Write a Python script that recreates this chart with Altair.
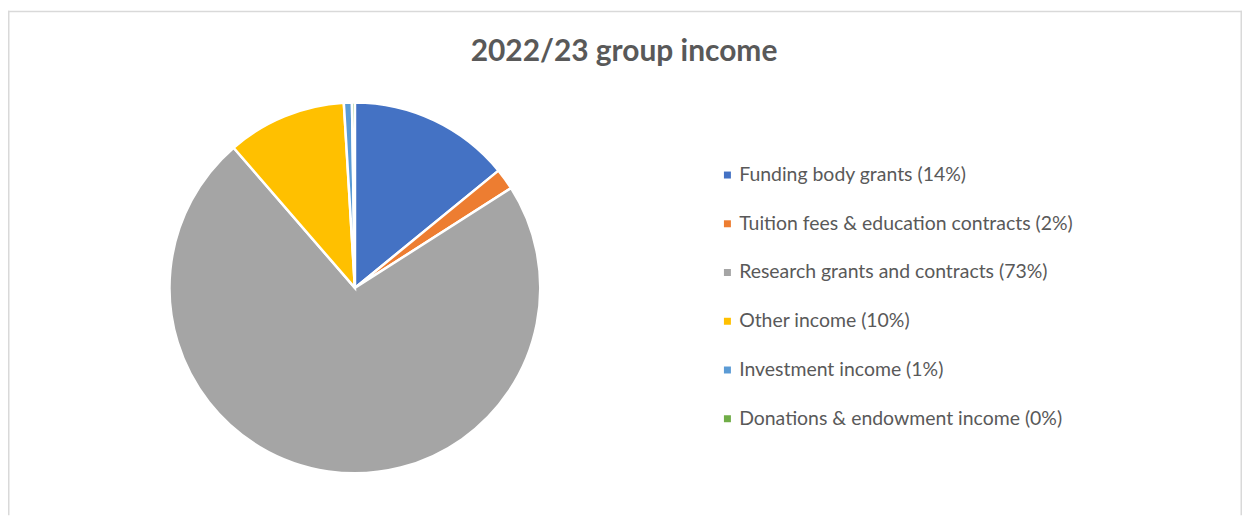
import altair as alt
import pandas as pd

title_text = "2022/23 group income"
categories = [
    "Funding body grants (14%)",
    "Tuition fees & education contracts (2%)",
    "Research grants and contracts (73%)",
    "Other income (10%)",
    "Investment income (1%)",
    "Donations & endowment income (0%)",
]
values = [14.1, 1.85, 72.7, 10.4, 0.7, 0.25]
colors = ["#4472C4", "#ED7D31", "#A5A5A5", "#FFC000", "#5B9BD5", "#70AD47"]

W, H = 1238, 506
TEXT_COLOR = "#595959"
BORDER = "#d9d9d9"

df = pd.DataFrame({"category": categories, "value": values})

pie = (
    alt.Chart(df)
    .transform_window(idx="row_number()")
    .mark_arc(radius=186, stroke="white", strokeWidth=2.5)
    .encode(
        theta=alt.Theta("value:Q", stack=True),
        color=alt.Color(
            "category:N",
            sort=categories,
            scale=alt.Scale(domain=categories, range=colors),
            legend=alt.Legend(
                title=None,
                orient="none",
                legendX=712,
                legendY=155,
                symbolType="square",
                symbolSize=49,
                symbolStrokeWidth=0,
                labelFont="Lato",
                labelFontSize=19.5,
                labelColor=TEXT_COLOR,
                labelOffset=2,
                rowPadding=27.9,
                padding=0,
                labelLimit=600,
            ),
        ),
        order=alt.Order("idx:Q"),
        x=alt.value(348),
        y=alt.value(278),
        tooltip=["category:N", "value:Q"],
    )
)

title = (
    alt.Chart(pd.DataFrame({"t": [title_text]}))
    .mark_text(font="Lato", fontSize=30, fontWeight="bold", color=TEXT_COLOR,
               align="center", baseline="alphabetic")
    .encode(text="t:N", x=alt.value(618), y=alt.value(50))
)

border_df = pd.DataFrame({"side": ["top", "left", "right"]})
top_rule = alt.Chart(border_df).transform_filter("datum.side == 'top'").mark_rule(
    color=BORDER, strokeWidth=1.5
).encode(x=alt.value(0), x2=alt.value(W), y=alt.value(0.75))
left_rule = alt.Chart(border_df).transform_filter("datum.side == 'left'").mark_rule(
    color=BORDER, strokeWidth=1.5
).encode(x=alt.value(0.75), y=alt.value(0), y2=alt.value(H))
right_rule = alt.Chart(border_df).transform_filter("datum.side == 'right'").mark_rule(
    color=BORDER, strokeWidth=1.5
).encode(x=alt.value(W - 0.75), y=alt.value(0), y2=alt.value(H))

chart = (
    alt.layer(top_rule, left_rule, right_rule, pie, title)
    .properties(
        width=W,
        height=H,
        autosize=alt.AutoSizeParams(type="none"),
        padding={"left": 0, "top": 2, "right": 0, "bottom": 0},
        background="white",
    )
    .configure_view(stroke=None)
)

chart.save("out.html", embed_options={"renderer": "svg", "actions": False})
